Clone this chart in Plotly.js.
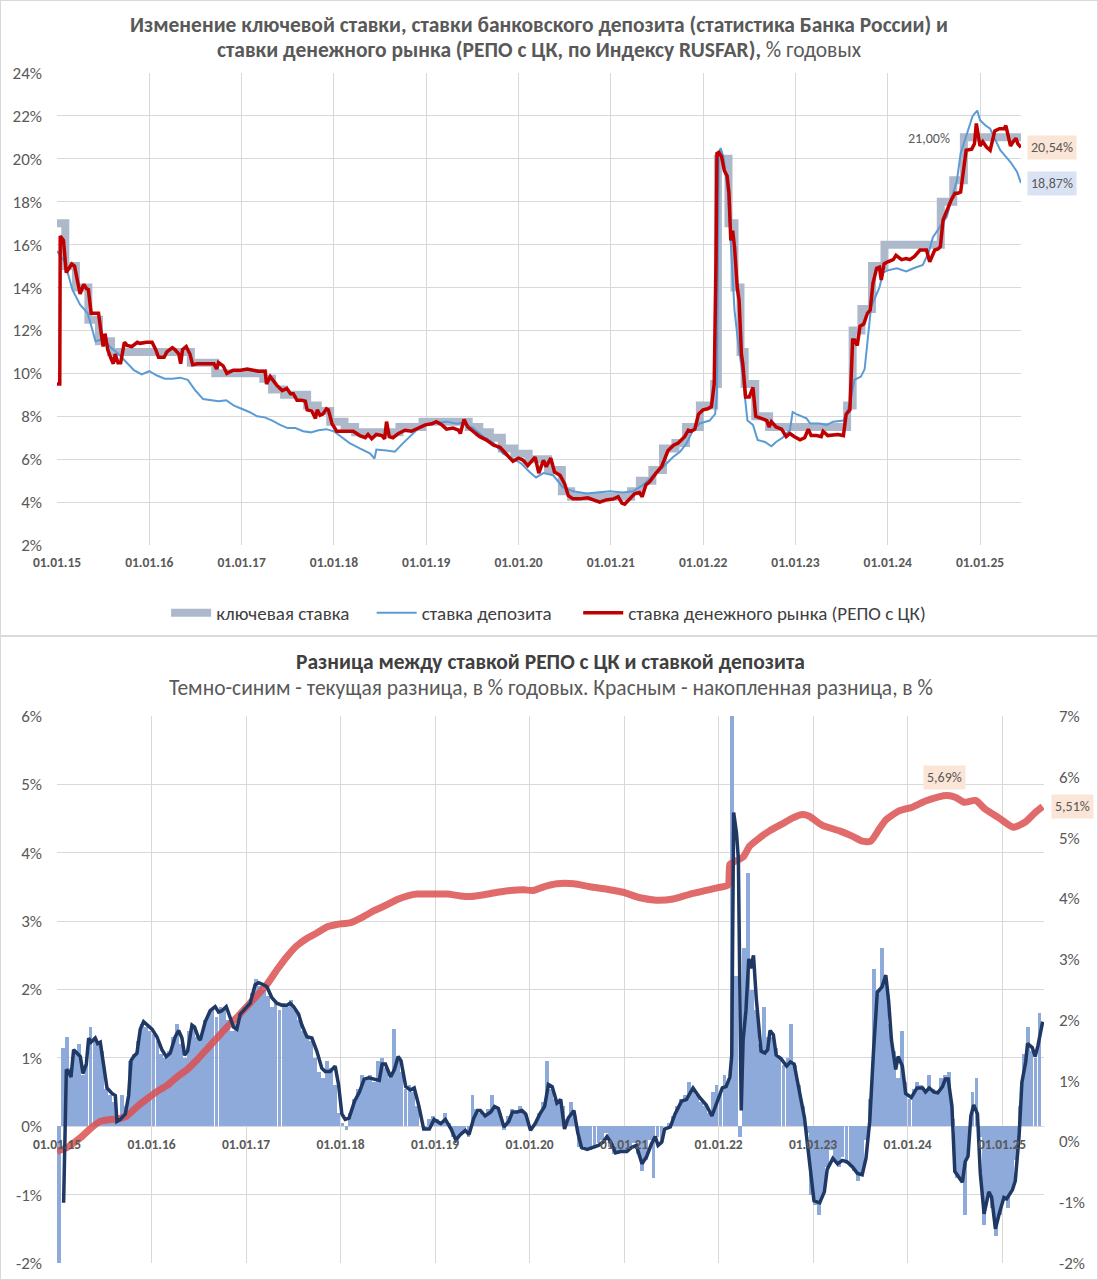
<!DOCTYPE html>
<html>
<head>
<meta charset="utf-8">
<script src="https://cdn.plot.ly/plotly-3.0.1.min.js"></script>
<style>
  body { margin: 0; background: #fff; }
  #top, #bottom { width: 1098px; outline: 1px solid #d9d9d9; outline-offset: -1px; }
  #top { height: 636px; }
  #bottom { height: 644px; }
</style>
</head>
<body>
<div id="top"></div>
<div id="bottom"></div>
<script>
// x values are decimal years (2015.5 = mid-2015)
const tickYears = [2015, 2016, 2017, 2018, 2019, 2020, 2021, 2022, 2023, 2024, 2025];
const tickLabels = ['01.01.15', '01.01.16', '01.01.17', '01.01.18', '01.01.19', '01.01.20',
    '01.01.21', '01.01.22', '01.01.23', '01.01.24', '01.01.25'];

// key rate, step changes
const keyX = [2015.0, 2015.09, 2015.205, 2015.34, 2015.455, 2015.585, 2016.45, 2016.715, 2017.235, 2017.33,
    2017.46, 2017.71, 2017.825, 2017.96, 2018.115, 2018.23, 2018.71, 2018.96, 2019.46, 2019.575,
    2019.69, 2019.82, 2019.955, 2020.11, 2020.32, 2020.47, 2020.57, 2021.22, 2021.315, 2021.45,
    2021.565, 2021.70, 2021.815, 2021.965, 2022.12, 2022.16, 2022.275, 2022.34, 2022.405, 2022.45,
    2022.565, 2022.715, 2023.56, 2023.62, 2023.715, 2023.83, 2023.965, 2024.575, 2024.71, 2024.825, 2025.444];
const keyY = [17, 15, 14, 12.5, 11.5, 11, 10.5, 10, 9.75, 9.25,
    9, 8.5, 8.25, 7.75, 7.5, 7.25, 7.5, 7.75, 7.5, 7.25,
    7, 6.5, 6.25, 6, 5.5, 4.5, 4.25, 4.5, 5, 5.5,
    6.5, 6.75, 7.5, 8.5, 9.5, 20, 17, 14, 11, 9.5,
    8, 7.5, 8.5, 12, 13, 15, 16, 18, 19, 21, 21];

// bank deposit rate
const depX = [2015.0, 2015.083, 2015.167, 2015.25, 2015.333, 2015.417, 2015.5, 2015.583, 2015.667, 2015.75, 2015.833, 2015.917,
    2016.0, 2016.083, 2016.167, 2016.25, 2016.333, 2016.417, 2016.5, 2016.583, 2016.667, 2016.75, 2016.833, 2016.917,
    2017.0, 2017.083, 2017.167, 2017.25, 2017.333, 2017.417, 2017.5, 2017.583, 2017.667, 2017.75, 2017.833, 2017.917,
    2018.0, 2018.065, 2018.17, 2018.28, 2018.39, 2018.44, 2018.46, 2018.57, 2018.66, 2018.75, 2018.82, 2018.93,
    2019.0, 2019.11, 2019.22, 2019.33, 2019.40, 2019.51, 2019.62, 2019.73, 2019.83, 2019.94,
    2020.03, 2020.12, 2020.19, 2020.27, 2020.375, 2020.48, 2020.59, 2020.74, 2020.88, 2020.99,
    2021.13, 2021.24, 2021.35, 2021.46, 2021.57, 2021.675, 2021.75, 2021.82, 2021.89, 2021.96,
    2022.07, 2022.13, 2022.15, 2022.17, 2022.19, 2022.22, 2022.27, 2022.31, 2022.34, 2022.38, 2022.43, 2022.48,
    2022.54, 2022.59, 2022.67, 2022.74, 2022.79, 2022.86, 2022.94, 2022.97,
    2023.01, 2023.12, 2023.16, 2023.26, 2023.34, 2023.41, 2023.52, 2023.55, 2023.59, 2023.64, 2023.71, 2023.75,
    2023.79, 2023.82, 2023.88, 2023.91, 2023.95,
    2024.0, 2024.1, 2024.2, 2024.28, 2024.38, 2024.44, 2024.49, 2024.56, 2024.64, 2024.69, 2024.75, 2024.79,
    2024.86, 2024.92, 2024.97, 2025.0, 2025.06, 2025.11, 2025.17, 2025.22, 2025.27, 2025.33, 2025.40, 2025.444];
const depY = [15.7, 15.2, 13.9, 13.2, 12.8, 11.5, 11.6, 11.2, 10.9, 10.5, 10.15, 9.95,
    10.1, 9.9, 9.75, 9.75, 9.8, 9.7, 9.2, 8.8, 8.75, 8.7, 8.75, 8.5,
    8.35, 8.2, 8.0, 7.95, 7.8, 7.6, 7.45, 7.45, 7.3, 7.25, 7.35, 7.4,
    7.3, 7.1, 6.75, 6.5, 6.27, 6.03, 6.45, 6.4, 6.35, 6.75, 7.05, 7.5,
    7.6, 7.7, 7.75, 7.65, 7.7, 7.45, 7.05, 6.75, 6.27, 6.0,
    5.8, 5.4, 5.15, 5.35, 5.25, 4.7, 4.5, 4.4, 4.45, 4.5,
    4.45, 4.5, 4.8, 5.25, 5.65, 6.1, 6.35, 6.73, 7.35, 7.66,
    7.8, 8.1, 9.05, 20.25, 20.5, 20.1, 18.4, 15.3, 12.95, 11.4, 9.85, 7.8,
    7.6, 6.9, 6.8, 6.6, 6.8, 7.0, 7.35, 8.2,
    8.1, 7.9, 7.66, 7.66, 7.6, 7.75, 7.8, 8.1, 8.6, 9.7, 9.85, 10.2,
    11.7, 13.1, 13.7, 14.0, 14.7,
    14.8, 14.9, 14.75, 14.9, 15.05, 15.6, 16.35, 16.8, 17.3, 18.1, 19.0, 20.25,
    21.2, 22.0, 22.25, 21.8, 21.55, 21.4, 20.85, 20.4, 20.15, 19.85, 19.4, 18.87];

// money market rate (REPO with CCP, RUSFAR)
const repoX = [2015.0, 2015.03, 2015.035, 2015.07, 2015.10, 2015.13, 2015.16, 2015.19, 2015.22, 2015.25, 2015.29, 2015.32,
    2015.34, 2015.37, 2015.41, 2015.45, 2015.47, 2015.50, 2015.52, 2015.55, 2015.58, 2015.61, 2015.63, 2015.66,
    2015.69, 2015.73, 2015.76, 2015.81, 2015.87, 2015.90, 2015.97, 2016.03, 2016.07, 2016.10, 2016.16, 2016.19,
    2016.25, 2016.28, 2016.32, 2016.34, 2016.36, 2016.40, 2016.44, 2016.47, 2016.52, 2016.59, 2016.70, 2016.73,
    2016.75, 2016.80, 2016.84, 2016.91, 2016.99, 2017.06, 2017.13, 2017.18, 2017.255, 2017.27, 2017.31, 2017.35,
    2017.38, 2017.44, 2017.49, 2017.53, 2017.56, 2017.60, 2017.65, 2017.69, 2017.71, 2017.76, 2017.80, 2017.82,
    2017.85, 2017.88, 2017.92, 2017.94, 2017.98, 2018.03,
    2018.065, 2018.21, 2018.28, 2018.34, 2018.37, 2018.41, 2018.46, 2018.52, 2018.55, 2018.57, 2018.60, 2018.64,
    2018.70, 2018.77, 2018.84, 2018.91, 2018.99, 2019.06, 2019.11, 2019.17, 2019.22, 2019.29, 2019.35, 2019.37,
    2019.41, 2019.45, 2019.51, 2019.58, 2019.65, 2019.73, 2019.80, 2019.87, 2019.94, 2020.0, 2020.05, 2020.10,
    2020.14, 2020.18, 2020.22, 2020.27, 2020.30, 2020.35, 2020.39, 2020.45, 2020.50, 2020.54, 2020.59, 2020.66,
    2020.75, 2020.83, 2020.88, 2020.95, 2021.03, 2021.08, 2021.12, 2021.15, 2021.21, 2021.26, 2021.31, 2021.34,
    2021.38, 2021.42, 2021.49, 2021.55, 2021.62, 2021.68, 2021.73,
    2021.80, 2021.84, 2021.87, 2021.91, 2021.95, 2022.0, 2022.05, 2022.09, 2022.12, 2022.14, 2022.15, 2022.17,
    2022.20, 2022.23, 2022.26, 2022.28, 2022.30, 2022.32, 2022.34, 2022.37, 2022.39, 2022.415, 2022.43, 2022.46,
    2022.50, 2022.54, 2022.57, 2022.63, 2022.69, 2022.715, 2022.74, 2022.79, 2022.85, 2022.90, 2022.94, 2022.99,
    2023.05, 2023.10, 2023.14, 2023.17, 2023.23, 2023.28, 2023.30, 2023.35, 2023.41, 2023.46, 2023.52, 2023.55,
    2023.59, 2023.62, 2023.64, 2023.67, 2023.70, 2023.74, 2023.78, 2023.81, 2023.84, 2023.88, 2023.91, 2023.93,
    2023.96, 2024.0, 2024.06, 2024.09, 2024.15, 2024.20, 2024.24, 2024.29, 2024.35, 2024.42, 2024.455, 2024.51,
    2024.545, 2024.57, 2024.60, 2024.64, 2024.69, 2024.73, 2024.76, 2024.79, 2024.83, 2024.85, 2024.91, 2024.94,
    2024.96, 2025.0, 2025.03, 2025.07, 2025.11, 2025.14, 2025.16, 2025.21, 2025.26, 2025.28, 2025.30, 2025.33,
    2025.36, 2025.39, 2025.41, 2025.444];
const repoY = [9.5, 9.5, 16.4, 16.2, 14.7, 14.9, 15.1, 15.0, 14.25, 13.7, 14.15, 13.95,
    13.9, 12.8, 12.8, 12.8, 12.15, 11.25, 11.85, 11.1, 10.75, 10.45, 10.9, 10.5,
    10.5, 11.45, 11.3, 11.25, 11.45, 11.4, 11.45, 11.45, 11.1, 10.75, 10.75, 11.0,
    11.2, 11.1, 10.9, 10.45, 11.1, 11.25, 10.9, 10.4, 10.45, 10.45, 10.45, 10.2,
    10.5, 10.35, 10.0, 10.15, 10.15, 10.2, 10.15, 10.1, 10.1, 9.5, 9.85, 9.6,
    9.45, 9.2, 9.3, 9.05, 9.05, 8.75, 8.75, 8.7, 8.3, 8.25, 7.9, 8.3,
    8.05, 8.1, 8.35, 8.3, 7.65, 7.3,
    7.3, 7.3, 7.1, 7.0, 7.15, 6.95, 7.15, 7.1, 6.95, 7.75, 7.05, 7.0,
    7.2, 7.35, 7.3, 7.45, 7.6, 7.65, 7.75, 7.6, 7.4, 7.45, 7.35, 7.2,
    7.85, 7.5, 7.3, 7.05, 6.9, 6.65, 6.55, 6.25, 5.9, 6.05, 5.95, 5.7,
    5.9, 6.1, 5.35, 5.95, 5.65, 6.05, 5.4, 5.25, 4.85, 4.3, 4.15, 4.15,
    4.2, 4.1, 4.0, 4.1, 4.15, 4.25, 3.95, 3.9, 4.15, 4.4, 4.45, 4.25,
    4.8, 4.95, 5.35, 5.65, 6.4, 6.65, 6.75,
    7.05, 7.35, 7.3, 7.4, 8.1, 8.3, 8.35, 8.45, 9.5, 15.3, 20.25, 20.3,
    20.1, 19.45, 19.2, 18.4, 16.2, 16.65, 15.9, 14.0, 13.4, 10.9, 10.45, 8.9,
    8.9, 9.35, 8.0, 7.9, 7.8, 7.5, 7.75, 7.5, 7.4, 7.05, 7.2, 7.05,
    6.9, 7.0, 7.4, 7.1, 7.1, 7.05, 7.3, 7.1, 7.15, 7.15, 7.1, 8.1,
    8.3, 11.55, 11.55, 11.3, 12.2, 12.3, 12.8, 12.95, 14.2, 14.9, 14.95, 14.35,
    15.1, 15.2, 15.3, 15.5, 15.3, 15.35, 15.3, 15.45, 15.75, 15.75, 15.2, 15.75,
    15.8, 15.9, 17.15, 17.6, 18.1, 18.4, 18.4, 18.45, 19.8, 20.4, 20.45, 20.7,
    21.65, 20.6, 20.8, 20.55, 20.4, 21.0, 21.3, 21.4, 21.4, 21.55, 21.15, 20.6,
    20.8, 20.95, 20.7, 20.54];

// difference REPO - deposit, half-month bars from 01.01.15 (24 per year), % p.a.
const barStart = 2015.0;
const barsPerYear = 24;
const diffBars = [
    -2.05, 1.15, 1.3, 0.85, 1.05, 1.2, 0.75, 1.0, 1.45, 1.3, 1.25, 1.1,
    0.55, 0.45, 0.35, 0.1, 0.45, 0.3, 0.95, 1.05, 1.25, 1.5, 1.45, 1.4,
    1.35, 1.25, 1.05, 1.0, 1.1, 1.3, 1.5, 1.2, 1.0, 1.4, 1.45, 1.3,
    1.3, 1.55, 1.65, 1.7, 1.6, 1.75, 1.7, 1.55, 1.4, 1.5, 1.65, 1.75,
    1.8, 1.95, 2.15, 2.05, 2.0, 1.9, 1.75, 1.8, 1.7, 1.8, 1.75, 1.85,
    1.7, 1.55, 1.4, 1.3, 1.25, 1.0, 0.8, 0.7, 0.95, 0.85, 0.6, 0.2,
    0.05, -0.05, 0.2, 0.4, 0.55, 0.75, 0.7, 0.75, 0.65, 0.95, 1.0, 0.85,
    0.7, 1.42, 1.0, 0.8, 0.55, 0.6, 0.5, 0.3, 0.0, -0.05, 0.1, 0.15,
    0.1, 0.05, 0.2, 0.05, -0.15, -0.25, -0.1, -0.05, -0.15, 0.45, 0.25, 0.2,
    0.15, 0.25, 0.45, 0.3, 0.2, -0.05, 0.15, 0.25, 0.2, 0.3, 0.2, 0.1,
    -0.05, 0.05, 0.2, 0.35, 0.95, 0.55, 0.4, 0.35, 0.3, 0.1, 0.35, 0.15,
    -0.3, -0.35, -0.3, -0.35, -0.3, -0.25, -0.2, -0.1, -0.3, -0.4, -0.4, -0.35,
    -0.35, -0.3, -0.25, -0.4, -0.65, -0.5, -0.2, -0.75, -0.15, -0.25, 0.0, 0.05,
    0.15, 0.3, 0.4, 0.45, 0.65, 0.55, 0.45, 0.35, 0.3, 0.2, 0.5, 0.6,
    0.5, 0.75, 0.65, 7.5, 2.2, -0.15, 2.6, 3.7, 2.0, 1.7, 1.2, 1.75,
    1.3, 1.3, 1.15, 1.0, 0.9, 1.0, 1.5, 0.9, 0.6, 0.3, -0.1, -1.0,
    -1.15, -1.3, -1.0, -0.6, -0.35, -0.5, -0.6, -0.45, -0.55, -0.6, -0.65, -0.8,
    -0.7, -0.2, 0.4, 2.3, 2.0, 2.6, 2.1, 1.5, 1.1, 0.7, 1.4, 0.65,
    0.4, 0.55, 0.65, 0.6, 0.5, 0.75, 0.55, 0.5, 0.7, 0.75, 0.8, 0.1,
    -0.75, -0.8, -1.3, -0.35, 0.5, 0.7, -0.15, -1.45, -1.0, -1.2, -1.6, -1.3,
    -1.1, -1.2, -0.95, -0.5, 0.3, 1.05, 1.45, 1.1, 1.0, 1.65
];

// current difference, smoothed (dark blue)
const curX = [2015.07, 2015.099, 2015.123, 2015.148, 2015.176, 2015.211, 2015.247, 2015.275, 2015.31, 2015.335,
    2015.36, 2015.405, 2015.43, 2015.458, 2015.493, 2015.529, 2015.582, 2015.617, 2015.634, 2015.67,
    2015.723, 2015.758, 2015.783, 2015.811, 2015.846, 2015.881, 2015.916, 2015.952, 2016.005, 2016.057,
    2016.11, 2016.156, 2016.198, 2016.251, 2016.287, 2016.322, 2016.35, 2016.382, 2016.428, 2016.456,
    2016.498, 2016.516, 2016.569, 2016.621, 2016.674, 2016.71, 2016.745, 2016.791, 2016.833, 2016.868,
    2016.903, 2016.939, 2016.992, 2017.044, 2017.097, 2017.133, 2017.185, 2017.221, 2017.274, 2017.326,
    2017.379, 2017.432, 2017.467, 2017.503, 2017.556, 2017.591, 2017.644, 2017.697, 2017.749, 2017.802,
    2017.838, 2017.89, 2017.943, 2017.979, 2018.014, 2018.049, 2018.09, 2018.15, 2018.20, 2018.25,
    2018.30, 2018.37, 2018.41, 2018.44, 2018.475, 2018.53, 2018.57, 2018.61, 2018.64, 2018.69,
    2018.74, 2018.78, 2018.83, 2018.88, 2018.94, 2018.99, 2019.06, 2019.11, 2019.17, 2019.22,
    2019.27, 2019.32, 2019.36, 2019.41, 2019.45, 2019.48, 2019.53, 2019.59, 2019.63, 2019.67,
    2019.73, 2019.78, 2019.82, 2019.87, 2019.92, 2019.96, 2020.01, 2020.06, 2020.11, 2020.16,
    2020.20, 2020.24, 2020.29, 2020.33, 2020.37, 2020.41, 2020.47, 2020.51, 2020.55, 2020.61,
    2020.68, 2020.73, 2020.78, 2020.82, 2020.86, 2020.91, 2020.96, 2021.03, 2021.08, 2021.13,
    2021.19, 2021.24, 2021.29, 2021.33, 2021.36, 2021.40, 2021.43, 2021.49, 2021.54, 2021.61,
    2021.66, 2021.73, 2021.80, 2021.87, 2021.93, 2021.99, 2022.04, 2022.08, 2022.12, 2022.14,
    2022.16, 2022.19, 2022.21, 2022.24, 2022.26, 2022.29, 2022.32, 2022.34, 2022.37, 2022.40,
    2022.43, 2022.45, 2022.49, 2022.52, 2022.545, 2022.58, 2022.61, 2022.66, 2022.72, 2022.76,
    2022.80, 2022.84, 2022.87, 2022.91, 2022.94, 2022.98, 2023.01, 2023.07, 2023.12, 2023.15,
    2023.21, 2023.26, 2023.31, 2023.36, 2023.42, 2023.47, 2023.52, 2023.56, 2023.60, 2023.64,
    2023.68, 2023.73, 2023.77, 2023.80, 2023.83, 2023.875, 2023.90, 2023.945, 2023.98, 2024.04,
    2024.10, 2024.16, 2024.19, 2024.23, 2024.28, 2024.32, 2024.37, 2024.40, 2024.43, 2024.47,
    2024.50, 2024.54, 2024.58, 2024.61, 2024.64, 2024.67, 2024.70, 2024.74, 2024.77, 2024.81,
    2024.86, 2024.89, 2024.93, 2024.97, 2025.02, 2025.05, 2025.11, 2025.14, 2025.18, 2025.21,
    2025.25, 2025.27, 2025.32, 2025.35, 2025.38, 2025.43];
const curY = [-1.12, 0.83, 0.80, 0.72, 1.12, 1.07, 1.02, 0.77, 0.91, 1.29,
    1.23, 1.29, 1.21, 1.23, 0.88, 0.56, 0.48, 0.45, 0.07, 0.10,
    0.18, 0.45, 0.96, 1.02, 1.07, 1.42, 1.53, 1.48, 1.42, 1.31,
    1.12, 1.02, 1.07, 1.31, 1.40, 1.29, 1.04, 1.10, 1.48, 1.45,
    1.29, 1.26, 1.53, 1.69, 1.75, 1.67, 1.69, 1.75, 1.58, 1.45,
    1.42, 1.64, 1.72, 1.80, 2.07, 2.10, 2.07, 2.04, 1.88, 1.80,
    1.77, 1.77, 1.80, 1.75, 1.64, 1.48, 1.31, 1.29, 1.10, 0.85,
    0.80, 0.80, 0.88, 0.61, 0.18, 0.10, 0.12, 0.37, 0.50, 0.69,
    0.71, 0.68, 0.67, 0.91, 0.91, 0.72, 0.83, 1.02, 0.96, 0.58,
    0.53, 0.56, 0.29, -0.04, -0.04, 0.10, 0.04, 0.10, -0.04, -0.20,
    -0.12, -0.06, -0.12, 0.12, 0.23, 0.23, 0.15, 0.21, 0.29, 0.26,
    -0.01, 0.07, 0.21, 0.21, 0.23, 0.18, -0.06, 0.04, 0.18, 0.29,
    0.61, 0.58, 0.34, 0.39, -0.04, 0.12, 0.23, -0.09, -0.31, -0.34,
    -0.31, -0.28, -0.23, -0.15, -0.23, -0.39, -0.37, -0.37, -0.31, -0.28,
    -0.55, -0.44, -0.26, -0.15, -0.28, -0.23, -0.04, -0.01, 0.18, 0.37,
    0.39, 0.56, 0.42, 0.31, 0.15, 0.39, 0.56, 0.58, 0.72, 1.04,
    4.59, 4.29, 3.91, 0.23, 1.26, 1.69, 2.45, 2.31, 2.50, 1.86,
    1.42, 1.10, 1.07, 1.12, 1.40, 1.34, 1.04, 0.99, 0.88, 0.94,
    0.91, 0.64, 0.39, 0.12, -0.25, -0.80, -1.09, -1.12, -0.96, -0.63,
    -0.47, -0.55, -0.50, -0.52, -0.60, -0.69, -0.71, -0.47, 0.07, 1.10,
    1.96, 2.04, 2.21, 1.83, 1.26, 0.83, 1.02, 0.88, 0.48, 0.42,
    0.56, 0.56, 0.50, 0.56, 0.50, 0.49, 0.58, 0.69, 0.69, 0.29,
    -0.66, -0.74, -0.82, -0.52, -0.44, 0.15, 0.31, 0.18, -0.69, -1.28,
    -0.96, -1.04, -1.50, -1.28, -1.04, -1.06, -0.93, -0.80, -0.15, 0.64,
    0.94, 1.21, 1.15, 1.02, 1.18, 1.53];

// accumulated difference, % (right axis)
const accX = [2015.0, 2015.106, 2015.247, 2015.352, 2015.458, 2015.564, 2015.67, 2015.74, 2015.846, 2015.952,
    2016.057, 2016.163, 2016.269, 2016.375, 2016.48, 2016.586, 2016.692, 2016.798, 2016.903, 2017.009,
    2017.115, 2017.22, 2017.326, 2017.432, 2017.538, 2017.643, 2017.749, 2017.855, 2017.96, 2018.11,
    2018.22, 2018.36, 2018.50, 2018.60, 2018.71, 2018.81, 2018.99, 2019.13, 2019.27, 2019.38,
    2019.52, 2019.66, 2019.80, 2019.94, 2020.04, 2020.15, 2020.29, 2020.47, 2020.64, 2020.82,
    2020.99, 2021.17, 2021.34, 2021.52, 2021.70, 2021.87, 2022.01, 2022.10, 2022.12, 2022.15,
    2022.26, 2022.33, 2022.43, 2022.54, 2022.68, 2022.78, 2022.89, 2022.96, 2023.10, 2023.28,
    2023.42, 2023.52, 2023.61, 2023.70, 2023.77, 2023.91, 2024.05, 2024.19, 2024.33, 2024.42,
    2024.51, 2024.60, 2024.72, 2024.82, 2024.97, 2025.12, 2025.25, 2025.35, 2025.43];
const accY = [-0.16, -0.10, 0.06, 0.21, 0.33, 0.36, 0.38, 0.42, 0.57, 0.70,
    0.82, 0.92, 1.06, 1.18, 1.34, 1.52, 1.70, 1.88, 2.04, 2.22,
    2.40, 2.58, 2.82, 3.04, 3.22, 3.34, 3.43, 3.53, 3.57, 3.60,
    3.68, 3.80, 3.90, 3.98, 4.04, 4.07, 4.07, 4.07, 4.04, 4.03,
    4.06, 4.10, 4.13, 4.14, 4.13, 4.19, 4.24, 4.24, 4.19, 4.15,
    4.10, 4.01, 3.97, 3.99, 4.07, 4.13, 4.18, 4.22, 4.56, 4.59,
    4.68, 4.86, 4.99, 5.11, 5.23, 5.32, 5.38, 5.35, 5.20, 5.11,
    5.02, 4.94, 4.94, 5.14, 5.29, 5.44, 5.50, 5.60, 5.67, 5.69,
    5.66, 5.58, 5.61, 5.47, 5.32, 5.17, 5.26, 5.41, 5.51];

const leftTicks = [-2, -1, 0, 1, 2, 3, 4, 5, 6];
const leftTickText = ['-2%', '-1%', '0%', '1%', '2%', '3%', '4%', '5%', '6%'];
const rightTicks = [-2, -1, 0, 1, 2, 3, 4, 5, 6, 7];
const rightTickText = ['-2%', '-1%', '0%', '1%', '2%', '3%', '4%', '5%', '6%', '7%'];

const FONT = 'Carlito, "Liberation Sans Narrow", "Open Sans", sans-serif';
const GRID = '#d9d9d9';
const X_RANGE = [2015.0, 2025.444];
const NB = '\u00a0';

function xAxis(extra) {
    return Object.assign({
        range: X_RANGE,
        tickvals: tickYears,
        ticktext: tickLabels,
        showgrid: true,
        gridcolor: GRID,
        zeroline: false,
        showline: false,
        ticks: '',
        ticklabelstandoff: 7,
        tickfont: {family: FONT, size: 13.5, color: '#595959', weight: 'bold'},
        fixedrange: true
    }, extra || {});
}

function yAxis(extra) {
    return Object.assign({
        gridcolor: GRID, zeroline: false, showline: false, ticks: '',
        ticklabelstandoff: 14,
        tickfont: {family: FONT, size: 17, color: '#595959'},
        fixedrange: true
    }, extra || {});
}

function titleLine(text, y, size, color) {
    return {xref: 'paper', yref: 'paper', x: 0.5, xanchor: 'center', y: y, yanchor: 'middle',
        text: text, showarrow: false, font: {family: FONT, size: size, color: color}};
}

function label(x, y, text, bg, extra) {
    return Object.assign({x: x, y: y, text: text, showarrow: false, xanchor: 'center', yanchor: 'middle',
        bgcolor: bg, borderpad: 3, font: {family: FONT, size: 14, color: '#595959'}}, extra || {});
}

// ---------- top chart ----------
// plot area: left 57, right 1021, top 73, bottom 545 (height 472)
Plotly.newPlot('top', [
    {
        x: keyX, y: keyY, name: 'ключевая ставка' + NB.repeat(4),
        mode: 'lines', line: {shape: 'hv', color: '#adb9ca', width: 8}
    },
    {
        x: depX, y: depY, name: 'ставка депозита' + NB.repeat(5),
        mode: 'lines', line: {color: '#5b9bd5', width: 2}
    },
    {
        x: repoX, y: repoY, name: 'ставка денежного рынка (РЕПО с ЦК)',
        mode: 'lines', line: {color: '#c00000', width: 3.5}
    }
], {
    width: 1098, height: 636,
    margin: {l: 57, r: 77, t: 73, b: 91, autoexpand: false},
    paper_bgcolor: 'rgba(0,0,0,0)', plot_bgcolor: '#fff',
    font: {family: FONT, color: '#595959'},
    xaxis: xAxis(),
    yaxis: yAxis({range: [2, 24], dtick: 2, ticksuffix: '%'}),
    showlegend: true,
    legend: {
        orientation: 'h', x: 0.51, xanchor: 'center', y: -0.144, yanchor: 'middle',
        font: {family: FONT, size: 19, color: '#404040'},
        itemwidth: 40, traceorder: 'normal'
    },
    annotations: [
        titleLine('<b>Изменение ключевой ставки, ставки банковского депозита (статистика Банка России) и</b>',
            1.1017, 21.5, '#595959'),
        titleLine('<b>ставки денежного рынка (РЕПО с ЦК, по Индексу RUSFAR),</b> % годовых',
            1.0487, 21.5, '#595959'),
        label(2024.45, 20.96, '21,00%', 'rgba(0,0,0,0)'),
        label(1.032, 20.54, '20,54%', '#fbe5d6', {xref: 'paper'}),
        label(1.032, 18.87, '18,87%', '#dae3f3', {xref: 'paper'})
    ]
}, {displayModeBar: false, staticPlot: true});

// ---------- bottom chart ----------
// plot area: left 57, right 1044, top 80, bottom 627 (height 547)
const barX = diffBars.map((v, i) => barStart + (i + 0.5) / barsPerYear);

Plotly.newPlot('bottom', [
    {
        type: 'bar', x: barX, y: diffBars, yaxis: 'y', width: 1 / barsPerYear * 0.97,
        marker: {color: '#8eaadb', line: {width: 0}}, showlegend: false
    },
    {
        x: accX, y: accY, yaxis: 'y2', mode: 'lines',
        line: {color: 'rgba(220, 80, 80, 0.85)', width: 7, shape: 'spline', smoothing: 0.6}, showlegend: false
    },
    {
        x: curX, y: curY, yaxis: 'y3', mode: 'lines',
        line: {color: '#1f3864', width: 3.5}, showlegend: false
    }
], {
    width: 1098, height: 644,
    margin: {l: 57, r: 54, t: 80, b: 17, autoexpand: false},
    paper_bgcolor: 'rgba(0,0,0,0)', plot_bgcolor: '#fff',
    font: {family: FONT, color: '#595959'},
    xaxis: xAxis({anchor: 'free', position: 0.25, ticklabelstandoff: 8}),
    yaxis: yAxis({range: [-2, 6], tickvals: leftTicks, ticktext: leftTickText}),
    yaxis2: yAxis({
        range: [-2, 7], tickvals: rightTicks, ticktext: rightTickText,
        overlaying: 'y', side: 'right', showgrid: false
    }),
    yaxis3: {
        range: [-2, 6], overlaying: 'y', visible: false, fixedrange: true
    },
    bargap: 0,
    annotations: [
        titleLine('<b>Разница между ставкой РЕПО с ЦК и ставкой депозита</b>', 1.0987, 21.5, '#404040'),
        titleLine('Темно-синим - текущая разница, в % годовых. Красным - накопленная разница, в %',
            1.0512, 21.5, '#595959'),
        label(2024.395, 5.98, '5,69%', '#fbe5d6', {yref: 'y2'}),
        label(1.029, 5.51, '5,51%', '#fbe5d6', {yref: 'y2', xref: 'paper'})
    ]
}, {displayModeBar: false, staticPlot: true});
</script>
</body>
</html>
